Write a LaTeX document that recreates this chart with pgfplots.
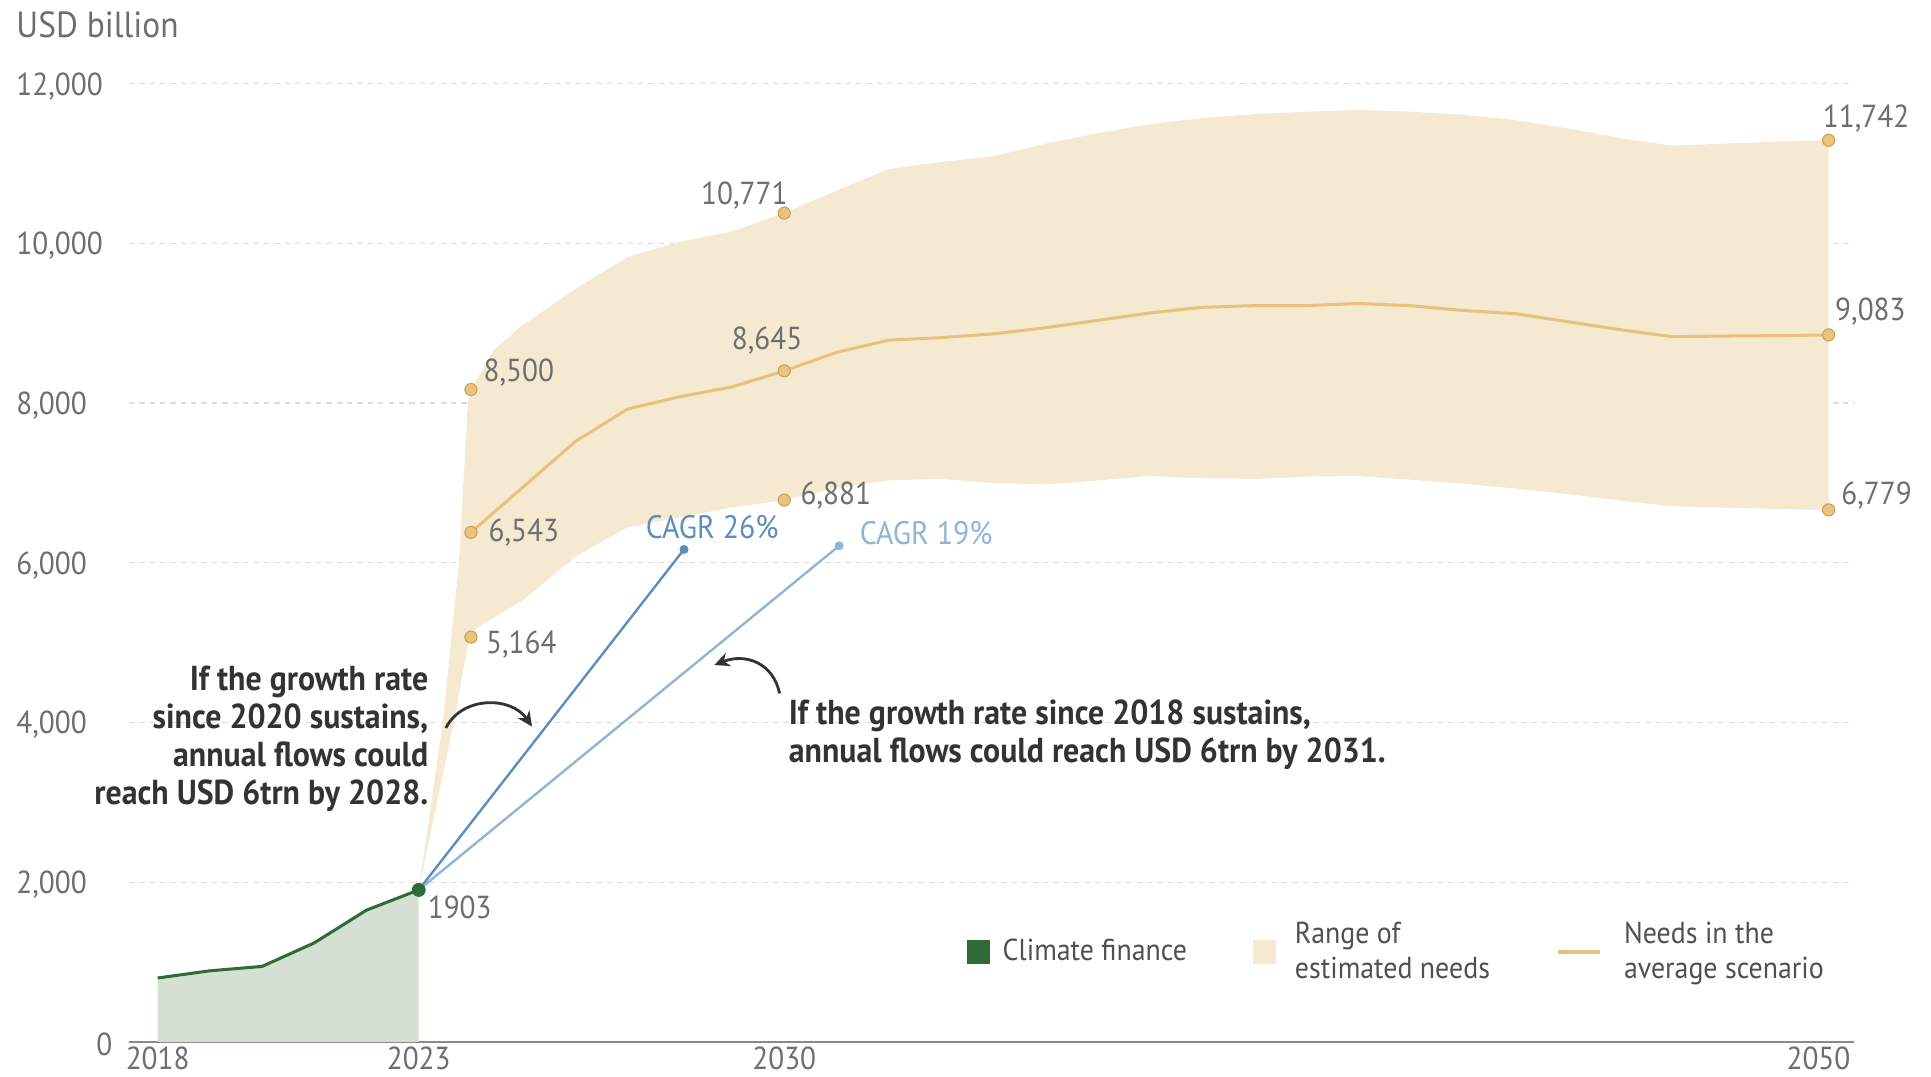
\documentclass[border=0pt]{standalone}
\usepackage{fontspec}
\setmainfont{PT Sans}[FakeStretch=0.92]
\usepackage{pgfplots}
\pgfplotsset{compat=1.18}
\usetikzlibrary{arrows.meta}

\definecolor{bandfill}{HTML}{F6E9D2}
\definecolor{gold}{HTML}{E6C27E}
\definecolor{golddot}{HTML}{E9C47D}
\definecolor{golddotedge}{HTML}{C8A15C}
\definecolor{cfgreen}{HTML}{2F6B36}
\definecolor{cffill}{HTML}{D4E0D2}
\definecolor{bA}{HTML}{5B8DBE}
\definecolor{bB}{HTML}{8FB4D6}
\definecolor{txtgray}{HTML}{6E6E6E}
\definecolor{anntxt}{HTML}{333333}
\definecolor{legtxt}{HTML}{505050}
\definecolor{gridgray}{HTML}{DCDCDC}
\definecolor{axisgray}{HTML}{8A8A8A}

\tikzset{lab/.style={inner sep=0pt, text=txtgray, font=\fontsize{14.7}{17}\selectfont}}

\begin{document}
\begin{tikzpicture}
\useasboundingbox (0,0) rectangle (31.36,17.48);
\begin{axis}[
  width=28.01cm, height=15.56cm, scale only axis,
  at={(2.094cm,0.56cm)}, anchor=south west,
  xmin=2017.45, xmax=2050.48, ymin=0, ymax=12000,
  clip=false,
  scaled y ticks=false, scaled x ticks=false,
  axis x line*=bottom, axis y line*=left,
  x axis line style={-, draw=axisgray, line width=1pt},
  y axis line style={draw=none},
  major tick length=0pt,
  xtick={2018,2023,2030},
  xticklabels={2018,2023,2030},
  extra x ticks={2050},
  extra x tick labels={2050},
  extra x tick style={grid=none, xticklabel style={anchor=north east, xshift=0.36cm}},
  ytick={0,2000,4000,6000,8000,10000,12000},
  yticklabels={\hspace*{1.3cm}0,{2,000},{4,000},{6,000},{8,000},{10,000},{12,000}},
  ymajorgrids,
  grid style={gridgray, line width=0.6pt, dash pattern=on 2.4pt off 2.4pt},
  ticklabel style={font=\fontsize{14.7}{17}\selectfont, text=txtgray},
  yticklabel style={anchor=west, inner sep=0pt, xshift=-1.834cm, yshift=-0.04cm},
  xticklabel style={inner sep=0pt, yshift=-0.08cm},
  /pgf/number format/assume math mode=true,
  legend columns=3,
  legend cell align=left,
  legend style={at={(axis description cs:0.4855,0.094)}, anchor=west,
    draw=none, fill=none, inner sep=0pt,
    font=\fontsize{14}{16.5}\selectfont, text=legtxt,
    cells={align=left},
    /tikz/every even column/.append style={column sep=1.0cm}},
]
% range band
\addplot[fill=bandfill, draw=none, forget plot] coordinates {
 (2023,1903) (2023.46,4000) (2023.77,6000) (2023.94,8000) (2024,8170)
 (2024.45,8675) (2025,8980) (2026,9430) (2027,9830) (2028,10020) (2029,10150)
 (2030,10380) (2031,10660) (2032,10930) (2033,11020) (2034,11090) (2035,11250)
 (2036,11380) (2037,11493) (2038,11570) (2039,11620) (2040,11650) (2041,11672)
 (2042,11650) (2043,11610) (2044,11545) (2045,11440) (2046,11320) (2047,11225)
 (2048,11250) (2049,11275) (2050,11292)
 (2050,6663) (2049,6675) (2048,6690) (2047,6708) (2046,6780) (2045,6860)
 (2044,6930) (2043,6990) (2042,7040) (2041,7087) (2040,7080) (2039,7050)
 (2038,7060) (2037,7087) (2036,7030) (2035,6980) (2034,7000) (2033,7050)
 (2032,7032) (2031,6939) (2030,6785) (2029,6692) (2028,6569) (2027,6446)
 (2026,6075) (2025,5533) (2024.1,5180) (2023.95,5000) (2023.67,4000)
 (2023.35,3000) (2023,1903)
} -- cycle;
% climate finance area
\addplot[fill=cffill, draw=none, forget plot] coordinates {
 (2018,0) (2018,800) (2019,890) (2020,945) (2021,1240) (2022,1650) (2023,1903) (2023,0)
} -- cycle;
\addplot[cfgreen, line width=1.4pt, forget plot] coordinates {
 (2018,800) (2019,890) (2020,945) (2021,1240) (2022,1650) (2023,1903)
};
% average scenario
\addplot[gold, line width=1.4pt, forget plot] coordinates {
 (2024,6381) (2025,6950) (2026,7520) (2027,7926) (2028,8080) (2029,8203)
 (2030,8404) (2031,8635) (2032,8789) (2033,8820) (2034,8867) (2035,8944)
 (2036,9036) (2037,9129) (2038,9200) (2039,9221) (2040,9221) (2041,9248)
 (2042,9220) (2043,9160) (2044,9120) (2045,9020) (2046,8920) (2047,8832)
 (2048,8840) (2049,8845) (2050,8854)
};
% CAGR lines
\addplot[bA, line width=1.1pt, mark=*, mark indices={2}, mark size=1.5pt,
  mark options={fill=bA, draw=bA}, forget plot] coordinates {(2023,1903) (2028.08,6168)};
\addplot[bB, line width=1.1pt, mark=*, mark indices={2}, mark size=1.5pt,
  mark options={fill=bB, draw=bB}, forget plot] coordinates {(2023,1903) (2031.05,6213)};
% dots
\addplot[only marks, mark=*, mark size=2.8pt,
  mark options={fill=golddot, draw=golddotedge, line width=0.5pt}, forget plot] coordinates {
 (2024,8170) (2024,6381) (2024,5069) (2030,10380) (2030,8404) (2030,6785)
 (2050,11292) (2050,8854) (2050,6663)};
\addplot[only marks, mark=*, mark size=3pt, mark options={fill=cfgreen, draw=cfgreen}, forget plot]
 coordinates {(2023,1903)};

% legend
\addlegendimage{legend image code/.code={\fill[cfgreen] (0cm,-0.19cm) rectangle (0.36cm,0.19cm); \path (0.5cm,0cm);}}
\addlegendentry{Climate finance}
\addlegendimage{legend image code/.code={\fill[bandfill] (0cm,-0.19cm) rectangle (0.36cm,0.19cm); \path (0.6cm,0cm);}}
\addlegendentry{Range of\\estimated needs}
\addlegendimage{legend image code/.code={\draw[gold, line width=0.06cm] (0cm,0cm) -- (0.68cm,0cm); \path (1.0cm,0cm);}}
\addlegendentry{Needs in the\\average scenario}

% data labels
\node[lab, anchor=west, xshift=0.2cm, yshift=0.28cm] at (axis cs:2024,8170) {8,500};
\node[lab, anchor=west, xshift=0.28cm] at (axis cs:2024,6381) {6,543};
\node[lab, anchor=west, xshift=0.24cm, yshift=-0.12cm] at (axis cs:2024,5069) {5,164};
\node[lab, anchor=east, xshift=0.06cm, yshift=0.28cm] at (axis cs:2030,10380) {10,771};
\node[lab, xshift=-0.28cm, yshift=0.5cm] at (axis cs:2030,8404) {8,645};
\node[lab, anchor=west, xshift=0.26cm, yshift=0.08cm] at (axis cs:2030,6785) {6,881};
\node[lab, anchor=west, xshift=-0.1cm, yshift=0.36cm] at (axis cs:2050,11292) {11,742};
\node[lab, anchor=west, xshift=0.1cm, yshift=0.38cm] at (axis cs:2050,8854) {9,083};
\node[lab, anchor=west, xshift=0.2cm, yshift=0.24cm] at (axis cs:2050,6663) {6,779};
\node[lab, anchor=west, xshift=0.14cm, yshift=-0.28cm] at (axis cs:2023,1903) {1903};

% CAGR labels
\node[anchor=west, inner sep=0pt, text=bA, font=\fontsize{15}{17}\selectfont] at (axis cs:2027.34,6446) {CAGR 26\%};
\node[anchor=west, inner sep=0pt, text=bB, font=\fontsize{15}{17}\selectfont] at (axis cs:2031.44,6368) {CAGR 19\%};

% annotations
\node[anchor=east, align=right, inner sep=0pt, text=anntxt, font=\bfseries\fontsize{16}{17.6}\selectfont]
  at (axis cs:2023.19,3793) {If the growth rate\\since 2020 sustains,\\annual flows could\\reach USD 6trn by 2028.};
\node[anchor=west, align=left, inner sep=0pt, text=anntxt, font=\bfseries\fontsize{16}{17.6}\selectfont]
  at (axis cs:2030.08,3847) {If the growth rate since 2018 sustains,\\annual flows could reach USD 6trn by 2031.};

\draw[anntxt, line width=1.3pt, -{Stealth[length=7pt,width=6.5pt]}]
  (axis cs:2023.52,3932) .. controls (axis cs:2023.83,4333) and (axis cs:2024.77,4333) .. (axis cs:2025.17,3948);
\draw[anntxt, line width=1.3pt, -{Stealth[length=7pt,width=6.5pt]}]
  (axis cs:2029.91,4364) .. controls (axis cs:2029.79,4749) and (axis cs:2029.25,4873) .. (axis cs:2028.66,4719);
\end{axis}
\node[anchor=west, inner sep=0pt, text=txtgray, font=\fontsize{16.8}{18}\selectfont] at (0.26,17.08) {USD billion};
\end{tikzpicture}
\end{document}
